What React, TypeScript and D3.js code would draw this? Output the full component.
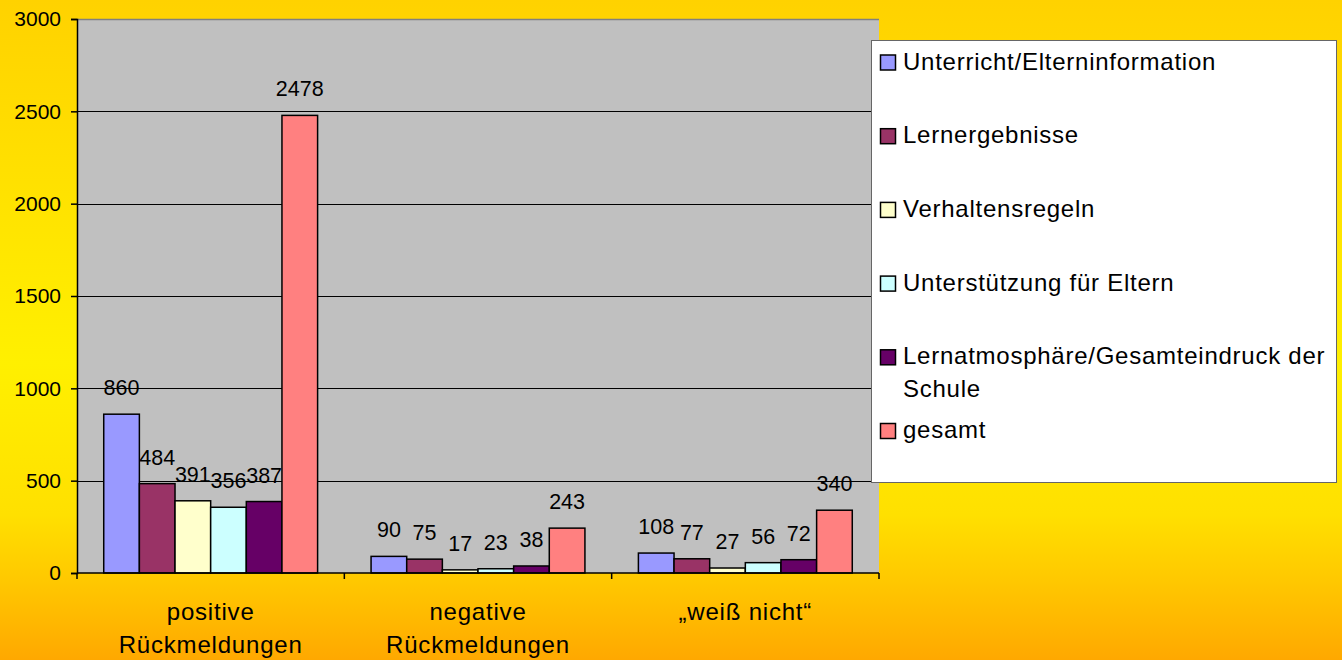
import { useEffect, useRef } from 'react';
import * as d3 from 'd3';

const categories = ['positive\nRückmeldungen', 'negative\nRückmeldungen', '„weiß nicht“'];
const seriesNames = [
    'Unterricht/Elterninformation',
    'Lernergebnisse',
    'Verhaltensregeln',
    'Unterstützung für Eltern',
    'Lernatmosphäre/Gesamteindruck der\nSchule',
    'gesamt',
];
const seriesColors = ['#9999FF', '#993366', '#FFFFCC', '#CCFFFF', '#660066', '#FF8080'];
const unterricht = [860, 90, 108];
const lernergebnisse = [484, 75, 77];
const verhaltensregeln = [391, 17, 27];
const unterstuetzung = [356, 23, 56];
const lernatmosphaere = [387, 38, 72];
const gesamt = [2478, 243, 340];
const yTicks = [0, 500, 1000, 1500, 2000, 2500, 3000];

const seriesValues = [unterricht, lernergebnisse, verhaltensregeln, unterstuetzung, lernatmosphaere, gesamt];

export default function App() {
    const ref = useRef<SVGSVGElement>(null);

    useEffect(() => {
        document.body.style.margin = '0';
        const svg = d3.select(ref.current);
        svg.selectAll('*').remove();

        const W = 1342, H = 660;
        const left = 77, right = 879, top = 19, bottom = 573;
        const font = 'Arial, "Liberation Sans", sans-serif';

        // background gradient
        const defs = svg.append('defs');
        const grad = defs.append('linearGradient')
            .attr('id', 'bg').attr('x1', 0).attr('y1', 0).attr('x2', 0).attr('y2', 1);
        [['0', '#FFD200'], ['0.55', '#FFF000'], ['0.78', '#FFE000'], ['0.88', '#FFC800'], ['1', '#FFA800']]
            .forEach(([o, c]) => grad.append('stop').attr('offset', o).attr('stop-color', c));
        svg.append('rect').attr('width', W).attr('height', H).attr('fill', 'url(#bg)');

        const x0 = d3.scaleBand().domain(categories).range([left, right]).paddingInner(0).paddingOuter(0);
        const barW = x0.bandwidth() / 7.5;
        const x1 = d3.scaleBand<number>().domain(d3.range(seriesNames.length))
            .range([0.75 * barW, 0.75 * barW + 6 * barW]);
        const y = d3.scaleLinear().domain([0, 3000]).range([bottom, top]);

        // plot area
        svg.append('rect').attr('x', left).attr('y', top).attr('width', right - left).attr('height', bottom - top)
            .attr('fill', '#C0C0C0');
        svg.append('line').attr('x1', left).attr('x2', right).attr('y1', top + 0.5).attr('y2', top + 0.5)
            .attr('stroke', '#808080').attr('stroke-width', 1.5);

        // gridlines
        svg.append('g').selectAll('line').data(yTicks.filter(t => t > 0 && t < 3000)).enter()
            .append('line')
            .attr('x1', left).attr('x2', right)
            .attr('y1', d => Math.round(y(d)) + 0.5).attr('y2', d => Math.round(y(d)) + 0.5)
            .attr('stroke', '#000').attr('stroke-width', 1);

        // y axis
        const yAxis = svg.append('g').attr('transform', `translate(${left},0)`)
            .call(d3.axisLeft(y).tickValues(yTicks).tickFormat(d3.format('d')).tickSize(6).tickPadding(10));
        yAxis.select('.domain').attr('stroke', '#000').attr('stroke-width', 1.5);
        yAxis.selectAll('line').attr('stroke', '#000').attr('stroke-width', 1.5);
        yAxis.selectAll('text').attr('font-family', font).attr('font-size', 21).attr('fill', '#000');

        // bars
        const groups = svg.append('g').selectAll('g').data(categories).enter()
            .append('g').attr('transform', d => `translate(${x0(d)},0)`);
        groups.selectAll('rect')
            .data((_, ci) => seriesValues.map((vals, si) => ({ si, v: vals[ci] })))
            .enter().append('rect')
            .attr('x', d => x1(d.si)!)
            .attr('width', barW)
            .attr('y', d => y(d.v))
            .attr('height', d => bottom - y(d.v))
            .attr('fill', d => seriesColors[d.si])
            .attr('stroke', '#000').attr('stroke-width', 1.5);
        groups.selectAll('text')
            .data((_, ci) => seriesValues.map((vals, si) => ({ si, v: vals[ci] })))
            .enter().append('text')
            .attr('x', d => x1(d.si)! + barW / 2)
            .attr('y', d => y(d.v) - 19)
            .attr('text-anchor', 'middle')
            .attr('font-family', font).attr('font-size', 21.5)
            .text(d => d.v);

        // x axis
        const xAxis = svg.append('g');
        xAxis.append('line').attr('x1', left).attr('x2', right).attr('y1', bottom).attr('y2', bottom)
            .attr('stroke', '#000').attr('stroke-width', 1.5);
        const bounds = [...categories.map(c => x0(c)!), right];
        xAxis.selectAll('.tk').data(bounds).enter().append('line')
            .attr('x1', d => d).attr('x2', d => d).attr('y1', bottom).attr('y2', bottom + 6)
            .attr('stroke', '#000').attr('stroke-width', 1.5);
        xAxis.selectAll('text').data(categories).enter().append('text')
            .attr('x', d => x0(d)! + x0.bandwidth() / 2)
            .attr('y', 620)
            .attr('text-anchor', 'middle')
            .attr('font-family', font).attr('font-size', 24).attr('letter-spacing', 0.8)
            .each(function (d) {
                const t = d3.select(this);
                d.split('\n').forEach((line, i) => {
                    t.append('tspan').attr('x', x0(d)! + x0.bandwidth() / 2).attr('dy', i === 0 ? 0 : 33).text(line);
                });
            });

        // legend
        const lg = svg.append('g');
        lg.append('rect').attr('x', 871.5).attr('y', 40.5).attr('width', 465).attr('height', 442)
            .attr('fill', '#fff').attr('stroke', '#666').attr('stroke-width', 1);
        const items = lg.selectAll('g.item').data(seriesNames).enter().append('g')
            .attr('transform', (_, i) => `translate(880,${69.5 + i * 73.7})`);
        items.append('rect').attr('x', 0.5).attr('y', -14.5).attr('width', 15).attr('height', 15)
            .attr('fill', (_, i) => seriesColors[i]).attr('stroke', '#000').attr('stroke-width', 1.5);
        items.append('text')
            .attr('x', 23).attr('y', 0)
            .attr('font-family', font).attr('font-size', 24).attr('letter-spacing', 0.75)
            .each(function (d) {
                const t = d3.select(this);
                d.split('\n').forEach((line, i) => {
                    t.append('tspan').attr('x', 23).attr('dy', i === 0 ? 0 : 33).text(line);
                });
            });
    }, []);

    return (
        <svg ref={ref} width={1342} height={660} style={{ display: 'block' }} />
    );
}
